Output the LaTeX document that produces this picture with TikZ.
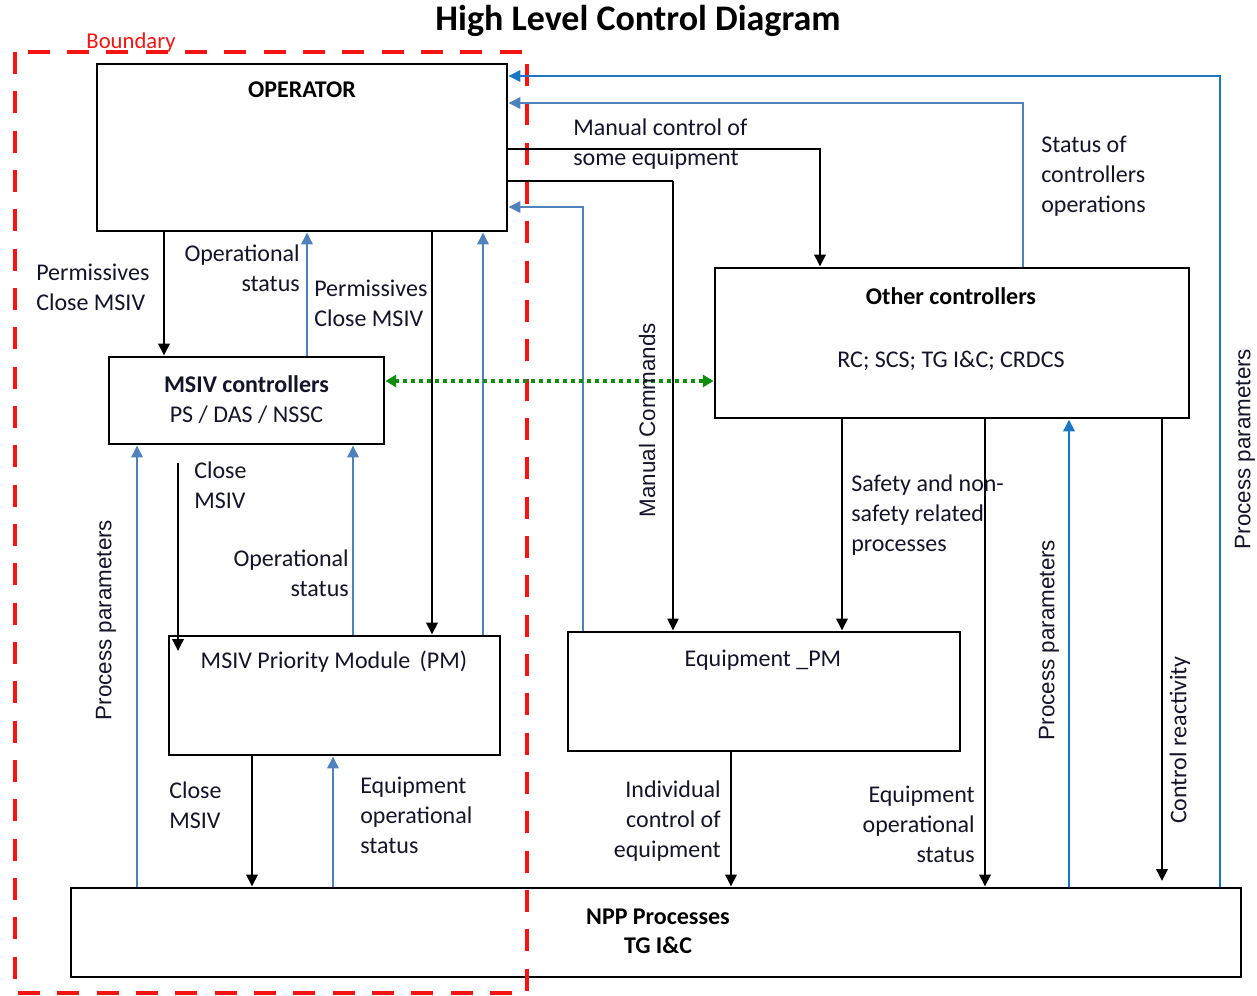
\documentclass[tikz,border=0pt]{standalone}
\usepackage{fontspec}
\setmainfont{Carlito}
\newfontfamily\arialf{Liberation Sans}
\usetikzlibrary{arrows.meta}
\definecolor{bluA}{RGB}{79,129,189}
\definecolor{bluB}{RGB}{28,117,196}
\definecolor{grn}{RGB}{16,140,16}
\definecolor{bred}{RGB}{245,20,20}
\definecolor{txt}{RGB}{20,20,40}
\begin{document}
\begin{tikzpicture}[x=0.75pt,y=-0.75pt,
  box/.style={draw, line width=2.2pt, inner sep=0pt, fill=none},
  lbl/.style={font=\fontsize{18}{22.5}\selectfont, inner sep=0pt, text=txt},
  rlbl/.style={font=\arialf\fontsize{16.8}{20}\selectfont, inner sep=0pt, rotate=90, text=txt},
  ttl/.style={font=\bfseries\fontsize{18}{22}\selectfont, inner sep=0pt, align=center},
  tip/.style={-{Triangle[length=9pt,width=8.5pt]}},
  blk/.style={draw=black, line width=1.8pt, tip},
  thn/.style={draw=black, line width=0.9pt, tip},
  bla/.style={draw=bluA, line width=1.8pt, tip},
  blb/.style={draw=bluB, line width=1.8pt, tip},
  grnarr/.style={draw=grn, line width=2.8pt, dash pattern=on 3pt off 3pt,
     {Triangle[length=8pt,width=9pt]}-{Triangle[length=8pt,width=9pt]}},
  bnd/.style={draw=bred, line width=3pt, dash pattern=on 16.5pt off 13pt}
]
\useasboundingbox (0,0) rectangle (1257,996);

% title and boundary label
\node[font=\bfseries\fontsize{27}{30}\selectfont, inner sep=0pt] (title) at (638,21) {High Level Control Diagram};
\node[font=\fontsize{17}{20}\selectfont, inner sep=0pt, text=bred] (bndlbl) at (131,42) {Boundary};

% boxes
\node[box, minimum width=307.5pt, minimum height=125.25pt] (op) at (302,147.5) {};
\node[box, minimum width=206.25pt, minimum height=65.25pt] (mc) at (246.5,400.5) {};
\node[box, minimum width=248.25pt, minimum height=89.25pt] (pm) at (334.5,695.5) {};
\node[box, minimum width=355.5pt, minimum height=112.5pt] (oc) at (952,343) {};
\node[box, minimum width=294pt, minimum height=89.25pt] (eq) at (764,691.5) {};
\node[box, minimum width=877.5pt, minimum height=66.75pt] (npp) at (656,932.5) {};

% box texts
\node[ttl] (opt) at (302,90) {OPERATOR};
\node[lbl, align=center] (mct) at (246.5,399.5) {\textbf{MSIV controllers}\\PS / DAS / NSSC};
\node[ttl] (oct) at (951,296) {Other controllers};
\node[lbl] (oct2) at (951,361) {RC; SCS; TG I\&C; CRDCS};
\node[lbl] (pmt) at (334,662) {MSIV Priority Module\, (PM)};
\node[lbl] (eqt) at (763,660) {Equipment \_PM};
\node[ttl] (nppt) at (658,931.5) {NPP Processes\\TG I\&C};

% boundary
\draw[bnd] (15,52) rectangle (527,993);

% connectors
\draw[blb] (npp.north -| 1220,0) |- (op.east |- 0,76);
\draw[bla] (oc.north -| 1023,0) |- (op.east |- 0,103);
\draw[blk] (op.east |- 0,149) -| (oc.north -| 820,0);
\coordinate (mcc) at (673,181);
\draw[draw=black, line width=1.8pt] (op.east |- 0,181) -- (mcc);
\draw[thn] (mcc) -- (eq.north -| 673,0);
\draw[bla] (eq.north -| 583,0) |- (op.east |- 0,207);

\draw[blk] (op.south -| 164,0) -- (mc.north -| 164,0);
\draw[bla] (mc.north -| 307,0) -- (op.south -| 307,0);
\draw[blk] (op.south -| 432,0) -- (pm.north -| 432,0);
\draw[bla] (pm.north -| 483,0) -- (op.south -| 483,0);

\draw[grnarr] (mc.east |- 0,381) -- (oc.west |- 0,381);

\coordinate (cm1) at (178,463);
\coordinate (cm2) at (178,651);
\draw[blk] (cm1) -- (cm2);
\draw[bla] (pm.north -| 353,0) -- (mc.south -| 353,0);
\draw[bla] (npp.north -| 137,0) -- (mc.south -| 137,0);

\draw[blk] (pm.south -| 252,0) -- (npp.north -| 252,0);
\draw[bla] (npp.north -| 333,0) -- (pm.south -| 333,0);

\draw[blk] (eq.south -| 731,0) -- (npp.north -| 731,0);
\draw[blk] (oc.south -| 842,0) -- (eq.north -| 842,0);
\draw[blk] (oc.south -| 985,0) -- (npp.north -| 985,0);
\draw[blb] (npp.north -| 1069,0) -- (oc.south -| 1069,0);
\coordinate (cr2) at (1162,881);
\draw[blk] (oc.south -| 1162,0) -- (cr2);

% labels
\node[lbl, anchor=west, align=left] (l1) at (573,144) {Manual control of\\some equipment};
\node[lbl, anchor=west, align=left] (l2) at (1041,176) {Status of\\controllers\\operations};
\node[lbl, anchor=west, align=left] (l3) at (36,287) {Permissives\\Close MSIV};
\node[lbl, anchor=east, align=right] (l4) at (300,268.5) {Operational\\status};
\node[lbl, anchor=west, align=left] (l5) at (314,303) {Permissives\\Close MSIV};
\node[lbl, anchor=west, align=left] (l6) at (194,485.5) {Close\\MSIV};
\node[lbl, anchor=east, align=right] (l7) at (349,573.5) {Operational\\status};
\node[lbl, anchor=west, align=left] (l8) at (169,805.5) {Close\\MSIV};
\node[lbl, anchor=west, align=left] (l9) at (360,815.5) {Equipment\\operational\\status};
\node[lbl, anchor=east, align=right] (l10) at (721,821) {Individual\\control of\\equipment};
\node[lbl, anchor=east, align=right] (l11) at (975,824.5) {Equipment\\operational\\status};
\node[lbl, anchor=west, align=left] (l12) at (851,515.5) {Safety and non-\\safety related\\processes};

\node[rlbl] (r1) at (647,420) {Manual Commands};
\node[rlbl] (r2) at (106,620) {Process parameters};
\node[rlbl] (r3) at (1049,640) {Process parameters};
\node[rlbl] (r4) at (1245,449) {Process parameters};
\node[lbl, rotate=90] (r5) at (1180,740) {Control reactivity};
\end{tikzpicture}
\end{document}
